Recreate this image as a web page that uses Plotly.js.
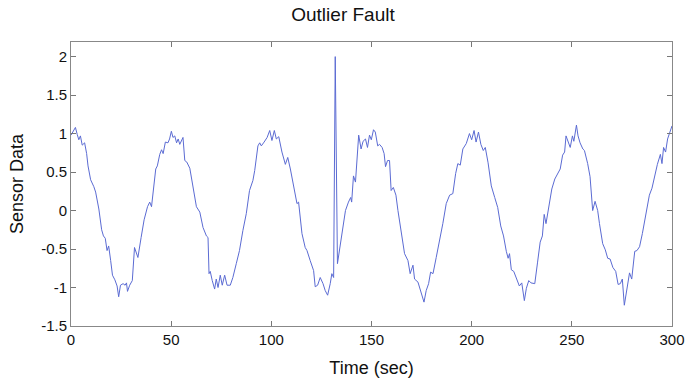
<!DOCTYPE html>
<html>
<head>
<meta charset="utf-8">
<script src="https://cdn.plot.ly/plotly-3.0.1.min.js"></script>
<style>html,body{margin:0;padding:0;background:#fff;}#chart{width:686px;height:384px;}</style>
</head>
<body>
<div id="chart"></div>
<script>
const timeSec = [0,1,2.2,3.1,3.9,4.7,5.6,6.8,7.8,8.5,9.8,11.4,12.3,13.9,15.3,16.2,17.1,18.0,18.8,19.8,20.7,21.9,23.0,23.8,24.7,26.0,27.0,27.7,28.2,29.3,30.6,31.7,32.7,33.4,35.0,36.5,38.2,39.3,40.2,41.2,42.3,43.1,44.3,45.2,46.0,47.1,48.4,49.2,50.1,50.9,51.8,52.7,53.5,54.3,55.9,56.8,57.8,59.3,61.0,62.6,64.3,65.9,67.6,68.4,68.9,69.5,70.5,71.7,72.5,73.4,74.5,75.5,76.7,77.9,79.5,80.8,82.5,84.1,85.8,87.5,89.1,90.8,91.7,92.5,93.3,94.2,95.0,96.4,97.9,99.2,100.3,101.5,102.5,103.7,105.3,107.0,108.2,109.5,111.1,112.8,113.6,115.3,116.9,117.8,119.4,121.1,121.9,123.1,124.4,125.8,126.9,128.1,129.4,130.2,131.1,131.9,133.0,134.1,135.5,137.0,138.5,139.6,140.1,141.0,142.0,142.7,143.6,144.8,145.8,147.0,148.0,149.0,149.9,151.0,151.9,153.1,154.0,155.3,156.3,157.0,158.0,159.0,159.8,160.9,162.2,163.2,164.9,166.5,168.2,169.3,170.7,171.5,173.2,174.8,176.2,177.3,178.5,179.5,180.7,182.3,184.0,185.6,187.3,189.0,190.6,192.0,193.1,194.3,195.6,197.3,198.9,200.0,201.2,202.2,203.4,204.6,205.8,206.8,208.2,209.8,211.5,213.0,214.5,215.9,217.3,218.2,218.9,219.8,221.0,222.3,223.8,225.0,226.3,227.3,228.5,229.6,231.5,232.9,234.2,235.3,236.2,237.1,238.4,240.0,241.5,243.1,244.2,245.4,246.4,247.1,248.4,249.2,250.3,251.0,252.3,253.1,254.1,255.5,256.3,257.9,259.1,260.4,261.6,262.9,263.8,265.4,266.7,267.9,269.1,270.5,271.9,273.1,274.2,275.2,276.2,277.4,278.8,279.9,281.4,282.5,283.8,285.2,286.8,288.7,290.0,291.2,292.7,294.2,295.0,295.8,296.8,297.8,299.0,300.0];
const sensorData = [0.98,1.03,1.08,0.99,0.92,0.97,0.85,0.88,0.74,0.58,0.40,0.31,0.24,0.02,-0.25,-0.33,-0.36,-0.52,-0.46,-0.65,-0.84,-0.90,-0.98,-1.12,-0.97,-0.95,-0.97,-0.94,-1.05,-0.97,-0.91,-0.48,-0.55,-0.61,-0.35,-0.12,0.05,0.11,0.05,0.32,0.54,0.58,0.73,0.79,0.74,0.89,0.88,0.93,1.03,0.95,0.97,0.88,0.93,0.86,0.95,0.65,0.63,0.55,0.28,0.05,-0.02,-0.22,-0.33,-0.35,-0.82,-0.79,-0.91,-1.02,-0.89,-1.00,-0.84,-0.97,-0.84,-0.97,-0.97,-0.87,-0.69,-0.52,-0.26,-0.04,0.26,0.39,0.52,0.69,0.84,0.88,0.84,0.89,0.95,1.04,0.91,1.04,0.93,0.96,0.76,0.60,0.69,0.54,0.30,0.09,0.11,-0.30,-0.48,-0.52,-0.65,-0.78,-0.99,-0.97,-0.87,-0.95,-1.04,-1.10,-0.95,-0.82,-0.87,2.00,-0.69,-0.48,-0.22,0.00,0.11,0.17,0.11,0.45,0.37,0.65,0.98,0.80,0.90,0.93,0.82,0.98,0.92,1.05,1.02,0.84,0.86,0.82,0.74,0.57,0.65,0.65,0.26,0.30,0.20,0.00,-0.30,-0.56,-0.65,-0.82,-0.71,-0.89,-0.93,-1.08,-1.19,-1.04,-0.95,-0.80,-0.82,-0.61,-0.39,-0.17,0.09,0.20,0.22,0.48,0.61,0.59,0.80,0.87,1.00,0.92,1.04,0.89,1.02,0.86,0.78,0.82,0.62,0.32,0.17,0.04,-0.20,-0.33,-0.53,-0.62,-0.56,-0.77,-0.79,-0.87,-0.98,-0.94,-1.17,-1.01,-0.91,-0.94,-0.95,-0.67,-0.41,-0.33,-0.05,-0.17,0.04,0.28,0.41,0.50,0.54,0.72,0.76,0.97,0.86,0.82,0.97,0.90,1.11,0.97,0.88,0.80,0.78,0.61,0.44,0.00,0.12,0.00,-0.17,-0.43,-0.51,-0.62,-0.63,-0.74,-0.79,-0.96,-0.95,-0.89,-1.23,-1.03,-0.81,-0.89,-0.53,-0.52,-0.47,-0.30,-0.06,0.20,0.29,0.44,0.60,0.73,0.61,0.82,0.76,0.93,1.01,1.10];
const xTicks = [0,50,100,150,200,250,300];
const yTicks = [-1.5,-1,-0.5,0,0.5,1,1.5,2];
const yTickLabels = ['-1.5','-1','-0.5','0','0.5','1','1.5','2'];

const font = 'Liberation Sans, Arial, Helvetica, sans-serif';
Plotly.newPlot('chart', [{
  x: timeSec, y: sensorData, type: 'scatter', mode: 'lines',
  line: {color: '#5b6bd3', width: 1}, hoverinfo: 'skip'
}], {
  width: 686, height: 384,
  margin: {l: 70.5, r: 14, t: 42, b: 58},
  paper_bgcolor: '#fff', plot_bgcolor: '#fff',
  showlegend: false,
  font: {family: font, color: '#111', size: 15},
  title: {text: 'Outlier Fault', x: 0.5, xanchor: 'center', y: 0.962, yanchor: 'middle', font: {family: font, size: 19, color: '#111'}},
  xaxis: {
    range: [0, 300], tickvals: xTicks, ticktext: xTicks.map(String),
    ticks: 'inside', ticklen: 5, tickcolor: '#777', showline: true, linecolor: '#888', linewidth: 1, mirror: 'ticks',
    showgrid: false, zeroline: false, tickfont: {size: 15, color: '#111'},
    title: {text: 'Time (sec)', font: {size: 18, color: '#111'}, standoff: 14}
  },
  yaxis: {
    range: [-1.5, 2.19], tickvals: yTicks, ticktext: yTickLabels,
    ticks: 'inside', ticklen: 5, tickcolor: '#777', showline: true, linecolor: '#888', linewidth: 1, mirror: 'ticks',
    showgrid: false, zeroline: false, tickfont: {size: 15, color: '#111'},
    title: {text: 'Sensor Data', font: {size: 18, color: '#111'}, standoff: 12}
  }
}, {staticPlot: true, displayModeBar: false});
</script>
</body>
</html>
